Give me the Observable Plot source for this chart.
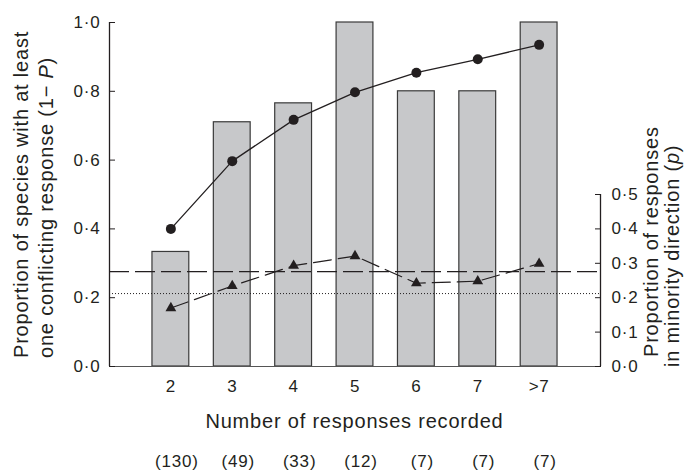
<!DOCTYPE html>
<html>
<head>
<meta charset="utf-8">
<script src="https://cdn.jsdelivr.net/npm/d3@7"></script>
<script src="https://cdn.jsdelivr.net/npm/@observablehq/plot@0.6"></script>
<style>
  html, body { margin: 0; padding: 0; background: white; }
</style>
</head>
<body>
<div id="chart"></div>
<script>
// ---- data ----
const categories = ["2", "3", "4", "5", "6", "7", ">7"];
const counts = [130, 49, 33, 12, 7, 7, 7];
const barValues = [0.333, 0.71, 0.765, 1.0, 0.8, 0.8, 1.0];          // bars (left axis)
const oneMinusP = [0.40, 0.597, 0.717, 0.797, 0.854, 0.893, 0.935];  // circles, 1 − P
const minorityP = [0.17, 0.234, 0.293, 0.321, 0.242, 0.248, 0.299];  // triangles, p (right axis)
const dashedRef = 0.276;
const dottedRef = 0.212;
const leftTicks = [0, 0.2, 0.4, 0.6, 0.8, 1.0];
const rightTicks = [0, 0.1, 0.2, 0.3, 0.4, 0.5];

const positions = categories.map((c, i) => i + 2);
const xDomain = [1, categories.length + 2];
const rows = categories.map((c, i) => ({
  cat: c, pos: positions[i], bar: barValues[i], one: oneMinusP[i], p: minorityP[i]
}));

const fmt = d => d.toFixed(1).replace(".", "\u00B7");
const ink = "#231f20";
const font = "'Liberation Sans', Arial, Helvetica, sans-serif";

const plot = Plot.plot({
  width: 691,
  height: 472,
  marginLeft: 109,
  marginRight: 91,
  marginTop: 22,
  marginBottom: 106,
  x: {domain: xDomain},
  y: {domain: [0, 1]},
  style: {fontFamily: font, fontSize: "17px", color: ink, background: "white"},
  marks: [
    Plot.rect(rows, {x1: d => d.pos - 0.3, x2: d => d.pos + 0.3, y1: 0, y2: "bar",
      fill: "#c7c8ca", stroke: "#3a3a3a", strokeWidth: 1.2}),
    Plot.ruleY([dottedRef], {stroke: ink, strokeWidth: 1, strokeDasharray: "1,2"}),
    Plot.ruleY([dashedRef], {stroke: ink, strokeWidth: 1.3, strokeDasharray: "20,6"}),
    Plot.line(rows, {x: "pos", y: "p", stroke: ink, strokeWidth: 1.2, strokeDasharray: "18,7"}),
    Plot.dot(rows, {x: "pos", y: "p", symbol: "triangle", r: 4, fill: ink, stroke: "none"}),
    Plot.line(rows, {x: "pos", y: "one", stroke: ink, strokeWidth: 1.3}),
    Plot.dot(rows, {x: "pos", y: "one", r: 5, fill: ink, stroke: "none"}),
    Plot.ruleY([0], {stroke: "#555", strokeWidth: 1.2}),
    Plot.ruleX([xDomain[0]], {stroke: ink, strokeWidth: 1.3}),
    Plot.ruleX([xDomain[1]], {y1: 0, y2: rightTicks[rightTicks.length - 1], stroke: ink, strokeWidth: 1.3}),
    Plot.axisY({anchor: "left", ticks: leftTicks, tickFormat: fmt, tickSize: -6, tickPadding: 15, label: null, fontSize: 17}),
    Plot.axisY({anchor: "right", ticks: rightTicks, tickFormat: fmt, tickSize: -6, tickPadding: 17, label: null, fontSize: 17}),
    Plot.axisX({ticks: positions, tickFormat: (d, i) => categories[i], tickSize: 0, tickPadding: 13, label: null, fontSize: 17}),
    Plot.axisX({ticks: positions, tickFormat: (d, i) => `(${counts[i]})`, tickSize: 0, tickPadding: 88, dx: 6, label: null, fontSize: 17})
  ]
});

document.getElementById("chart").appendChild(plot);

const svg = d3.select(plot);
svg.selectAll("g[aria-label='y-axis tick label'] text, g[aria-label='x-axis tick label'] text")
  .style("letter-spacing", "0.8px");

const titleStyle = sel => sel.attr("font-family", font).attr("font-size", 20)
  .attr("fill", ink).style("letter-spacing", "0.8px");

const xs = plot.scale("x");
const xMid = (xs.range[0] + xs.range[1]) / 2;

svg.append("text").call(titleStyle).attr("text-anchor", "middle")
  .attr("x", xMid).attr("y", 428).text("Number of responses recorded");

// left title (two lines)
svg.append("text").call(titleStyle).attr("text-anchor", "start")
  .attr("transform", "translate(28,358) rotate(-90)")
  .text("Proportion of species with at least");
const l2 = svg.append("text").call(titleStyle).attr("text-anchor", "start")
  .attr("transform", "translate(53,358) rotate(-90)");
l2.append("tspan").text("one conflicting response (1\u2212 ");
l2.append("tspan").attr("font-style", "italic").text("P");
l2.append("tspan").text(")");

// right title (two lines)
svg.append("text").call(titleStyle).attr("text-anchor", "start")
  .attr("transform", "translate(658,357) rotate(-90)")
  .text("Proportion of responses");
const r2 = svg.append("text").call(titleStyle).attr("text-anchor", "start")
  .attr("transform", "translate(679,367) rotate(-90)");
r2.append("tspan").text("in minority direction (");
r2.append("tspan").attr("font-style", "italic").text("p");
r2.append("tspan").text(")");
</script>
</body>
</html>
